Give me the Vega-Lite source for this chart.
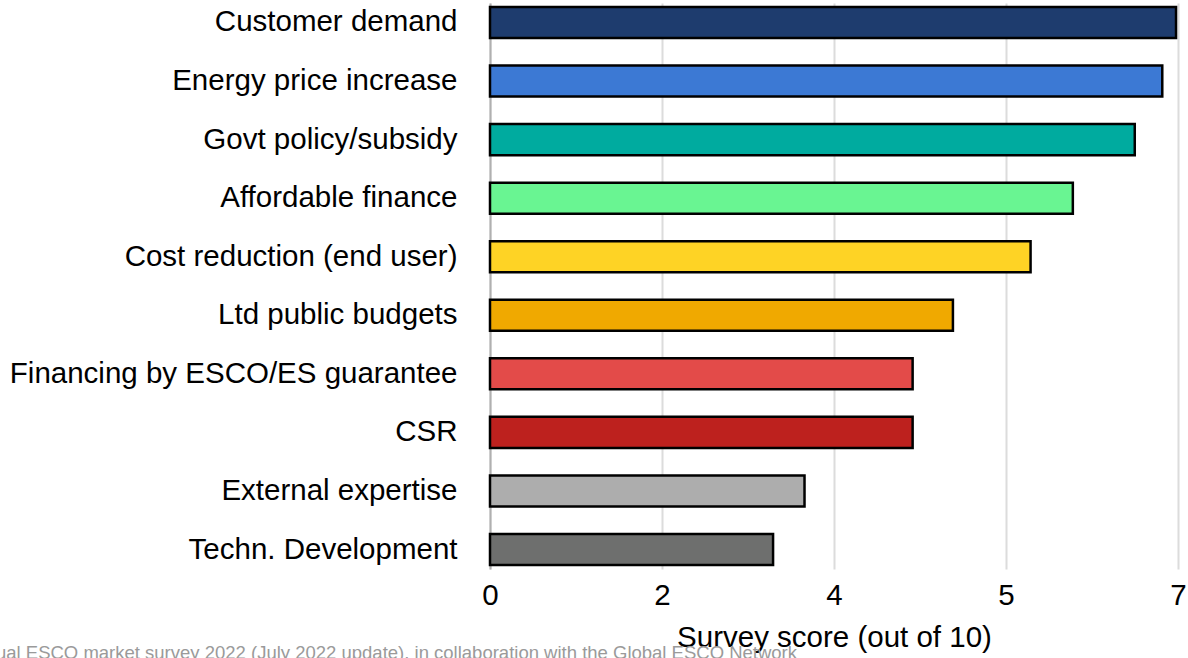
{
  "$schema": "https://vega.github.io/schema/vega-lite/v6.json",
  "width": 688,
  "height": 566,
  "autosize": {"type": "none"},
  "padding": {"left": 490, "top": 3, "right": 10, "bottom": 89},
  "background": "white",
  "config": {
    "view": {"stroke": null},
    "font": "Liberation Sans"
  },
  "title": {
    "text": "ual ESCO market survey 2022 (July 2022 update), in collaboration with the Global ESCO Network",
    "orient": "bottom",
    "anchor": "start",
    "frame": "group",
    "dx": -494,
    "offset": -8,
    "fontSize": 18.5,
    "fontWeight": "normal",
    "color": "#9a9a9a",
    "font": "Liberation Sans"
  },
  "data": {
    "values": [
      {"driver": "Customer demand", "score": 6.98},
      {"driver": "Energy price increase", "score": 6.84},
      {"driver": "Govt policy/subsidy", "score": 6.56},
      {"driver": "Affordable finance", "score": 5.93},
      {"driver": "Cost reduction (end user)", "score": 5.5},
      {"driver": "Ltd public budgets", "score": 4.71},
      {"driver": "Financing by ESCO/ES guarantee", "score": 4.3},
      {"driver": "CSR", "score": 4.3},
      {"driver": "External expertise", "score": 3.2},
      {"driver": "Techn. Development", "score": 2.88}
    ]
  },
  "mark": {"type": "bar", "stroke": "black", "strokeWidth": 2.5},
  "encoding": {
    "y": {
      "field": "driver",
      "type": "nominal",
      "sort": null,
      "scale": {"paddingInner": 0.47, "paddingOuter": 0.068},
      "axis": {
        "title": null,
        "ticks": false,
        "tickSize": 0,
        "labelFontSize": 29.5,
        "labelColor": "black",
        "labelPadding": 33,
        "labelLimit": 600,
        "domain": true,
        "domainColor": "#b0b0b0",
        "domainWidth": 2,
        "grid": false
      }
    },
    "x": {
      "field": "score",
      "type": "quantitative",
      "scale": {"domain": [0, 7], "nice": false, "zero": true},
      "axis": {
        "values": [0, 1.75, 3.5, 5.25, 7],
        "format": ".0f",
        "title": "Survey score (out of 10)",
        "titleFontSize": 29.5,
        "titleFontWeight": "normal",
        "titleColor": "black",
        "titlePadding": 14,
        "labelFontSize": 29.5,
        "labelColor": "black",
        "labelPadding": 12,
        "labelFlush": false,
        "ticks": false,
        "tickSize": 0,
        "domain": false,
        "grid": true,
        "gridColor": "#dcdcdc",
        "gridWidth": 2
      }
    },
    "color": {
      "field": "driver",
      "type": "nominal",
      "legend": null,
      "scale": {
        "domain": ["Customer demand", "Energy price increase", "Govt policy/subsidy", "Affordable finance", "Cost reduction (end user)", "Ltd public budgets", "Financing by ESCO/ES guarantee", "CSR", "External expertise", "Techn. Development"],
        "range": ["#1e3c6e", "#3c79d4", "#00ab9f", "#69f592", "#fed325", "#f0a900", "#e34b49", "#bd211e", "#adadad", "#6e6f6e"]
      }
    }
  }
}
